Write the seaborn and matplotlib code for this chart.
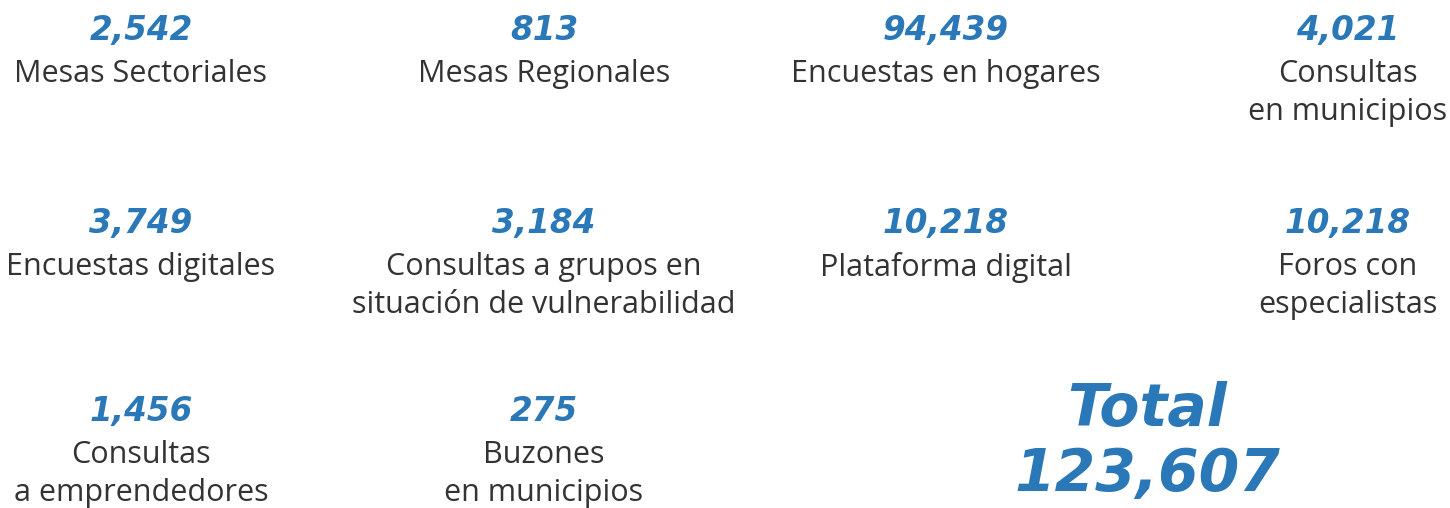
import matplotlib
matplotlib.use("Agg")
import matplotlib.pyplot as plt
import seaborn as sns

# figures for each participation channel
valores = ["2,542", "813", "94,439", "4,021",
           "3,749", "3,184", "10,218", "10,218",
           "1,456", "275"]
etiquetas = ["Mesas Sectoriales", "Mesas Regionales", "Encuestas en hogares", "Consultas\nen municipios",
             "Encuestas digitales", "Consultas a grupos en\nsituación de vulnerabilidad", "Plataforma digital",
             "Foros con\nespecialistas",
             "Consultas\na emprendedores", "Buzones\nen municipios"]
total = "123,607"

azul = "#2a78b8"
gris = "#333333"

sns.set_theme(style="white")
plt.rcParams['font.family'] = ['Open Sans', 'DejaVu Sans']

fig = plt.figure(figsize=(14.5, 5.08), dpi=100)
ax = fig.add_axes([0, 0, 1, 1])
ax.set_xlim(0, 1450)
ax.set_ylim(508, 0)
ax.axis('off')

# grid layout (pixels)
col_x = [141, 544, 946, 1348]
row_base = [40, 233, 421]

for i, (v, e) in enumerate(zip(valores, etiquetas)):
    r, c = divmod(i, 4)
    x, y = col_x[c], row_base[r]
    ax.text(x, y, v, ha='center', va='baseline', fontsize=23.5, color=azul,
            fontweight='bold', fontstyle='italic', family='DejaVu Sans')
    ax.text(x, y + 19, e, ha='center', va='top', fontsize=22, color=gris,
            linespacing=1.33, multialignment='center')

ax.text(1147, 426, "Total", ha='center', va='baseline', fontsize=42, color=azul,
        fontweight='bold', fontstyle='italic', family='DejaVu Sans')
ax.text(1147, 491, total, ha='center', va='baseline', fontsize=42, color=azul,
        fontweight='bold', fontstyle='italic', family='DejaVu Sans')

fig.savefig("out.png", dpi=100)
